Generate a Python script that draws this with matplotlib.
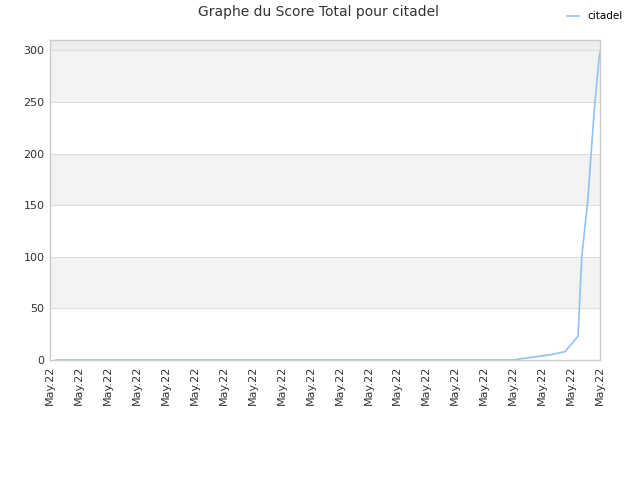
import matplotlib
matplotlib.use("Agg")
import matplotlib.pyplot as plt

# x in tick units (20 ticks, all dated May.22), score values
x_pos = [0.2, 16.0, 16.2, 16.75, 17.27, 17.79, 18.24, 18.37, 18.58, 18.69, 18.82, 18.96, 19.0]
scores = [0, 0, 1, 3, 5, 8, 23, 100, 155, 199, 248, 290, 298]
tick_labels = ["May.22"] * 20
y_ticks = [0, 50, 100, 150, 200, 250, 300]

fig = plt.figure(figsize=(6.4, 4.8), dpi=100)
ax = fig.add_axes([50 / 640, 1 - 360 / 480, 550 / 640, 320 / 480])

ax.set_xlim(0, 19)
ax.set_ylim(0, 310)

# alternating bands
for i, lo in enumerate(range(0, 300, 50)):
    if i % 2 == 1:
        ax.axhspan(lo, lo + 50, color="#f3f3f3", zorder=0, lw=0)
ax.axhspan(300, 310, color="#eeeeee", zorder=0, lw=0)
for y in y_ticks[1:]:
    ax.axhline(y, color="#dddddd", lw=0.8, zorder=1)

ax.plot(x_pos, scores, color="#90c3f3", lw=1.2, zorder=3, label="citadel")

ax.set_xticks(range(20))
ax.set_xticklabels(tick_labels, rotation=90, fontsize=8, color="#333333")
ax.set_yticks(y_ticks)
ax.set_yticklabels([str(v) for v in y_ticks], fontsize=8, color="#333333")
ax.tick_params(length=0, pad=4)

for s in ax.spines.values():
    s.set_color("#cccccc")
    s.set_linewidth(1)

fig.text(318 / 640, 1 - 12 / 480, "Graphe du Score Total pour citadel",
         ha="center", va="center", fontsize=10, color="#333333")
fig.legend(loc="upper right", bbox_to_anchor=(632 / 640, 1 - 2 / 480), frameon=False,
           fontsize=7.5, handlelength=1.2, handletextpad=0.8)

fig.savefig("out.png", dpi=100)
